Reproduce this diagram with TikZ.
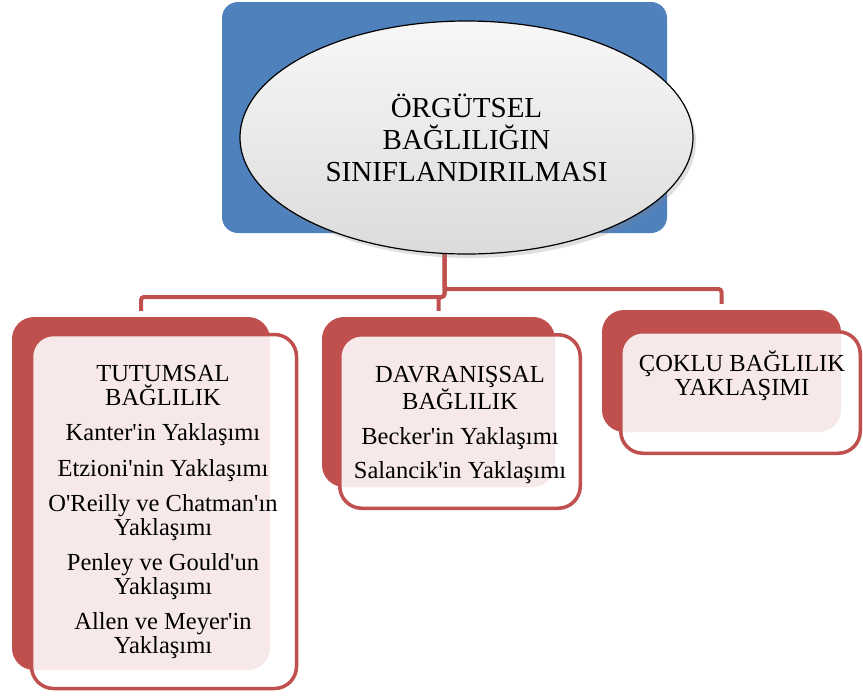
\documentclass[tikz,border=0pt]{standalone}
\usepackage{fontspec}
\setmainfont{Liberation Serif}[Ligatures=TeXOff]
\usetikzlibrary{shapes.geometric,shadows}
\definecolor{sblue}{HTML}{4F81BD}
\definecolor{sred}{HTML}{C0504D}
\begin{document}
\begin{tikzpicture}[x=1pt,y=-1pt,
  bluebox/.style={fill=sblue, rounded corners=16pt, inner sep=0pt},
  ovalbox/.style={ellipse, draw=black, line width=1.2pt, top color=gray!6, bottom color=gray!28,
    align=center, inner sep=0pt, font=\fontsize{29}{32}\selectfont,
    drop shadow={shadow xshift=3pt, shadow yshift=-4pt, opacity=0.25}},
  backbox/.style={fill=sred, rounded corners=22pt, inner sep=0pt},
  frontbox/.style={fill=white, fill opacity=0.88, draw=sred, line width=3.5pt, rounded corners=22pt, inner sep=0pt},
  conn/.style={draw=sred, line width=4pt, rounded corners=3pt},
  txt/.style={align=center, inner sep=0pt, font=\fontsize{24.5}{23.5}\selectfont}]
\useasboundingbox (0,0) rectangle (863,697);
\coordinate (hl) at (0,297);
\coordinate (hr) at (0,289);
% parent
\node[bluebox, minimum width=445pt, minimum height=231pt] (blue) at (444.5,117.5) {};
% children back boxes
\node[backbox, minimum width=258pt, minimum height=353pt] (lback) at (141,493.5) {};
\node[backbox, minimum width=233pt, minimum height=170pt] (mback) at (438.5,402) {};
\node[backbox, minimum width=239pt, minimum height=122pt] (rback) at (721.5,371) {};
% connectors
\draw[conn] (blue.south) -- (blue.south |- hl) -| ([yshift=6pt]lback.north);
\draw[conn] (blue.south) -- (blue.south |- hl) -| ([yshift=6pt]mback.north);
\draw[conn] (blue.south) -- (blue.south |- hr) -| ([yshift=6pt]rback.north);
% oval over the parent
\node[ovalbox, minimum width=453pt, minimum height=233pt] (oval) at (466.5,137.5)
  {ÖRGÜTSEL\\BAĞLILIĞIN\\SINIFLANDIRILMASI};
% front boxes
\node[frontbox, minimum width=265pt, minimum height=354pt] (lfront) at (164,511.5) {};
\node[frontbox, minimum width=240.5pt, minimum height=173.5pt] (mfront) at (460,421.5) {};
\node[frontbox, minimum width=239.5pt, minimum height=121.5pt] (rfront) at (740.5,392.5) {};
% texts
\node[txt] (ltext) at (163,512) {TUTUMSAL\\BAĞLILIK\\[12pt]Kanter'in Yaklaşımı\\[12pt]Etzioni'nin Yaklaşımı\\[12pt]O'Reilly ve Chatman'ın\\Yaklaşımı\\[12pt]Penley ve Gould'un\\Yaklaşımı\\[12pt]Allen ve Meyer'in\\Yaklaşımı};
\node[txt] (mtext) at (460,425) {DAVRANIŞSAL\\BAĞLILIK\\[12pt]Becker'in Yaklaşımı\\[10pt]Salancik'in Yaklaşımı};
\node[txt] (rtext) at (742,375.5) {ÇOKLU BAĞLILIK\\YAKLAŞIMI};
\end{tikzpicture}
\end{document}
